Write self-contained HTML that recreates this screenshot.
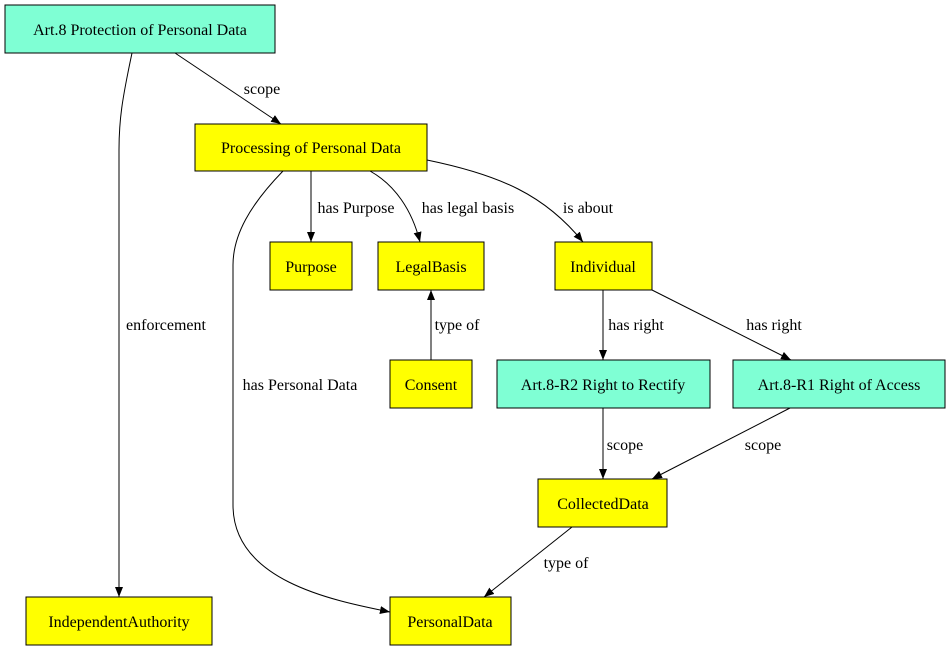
<!DOCTYPE html>
<html><head><meta charset="utf-8"><style>
html,body{margin:0;padding:0;background:#fff;width:951px;height:651px;overflow:hidden}
svg{display:block}
text{font-family:"Liberation Serif",serif;font-size:16px;fill:#000}
.n{stroke:#000;stroke-width:1}
.e{fill:none;stroke:#000;stroke-width:1}
</style></head><body>
<svg width="951" height="651" viewBox="0 0 951 651" xmlns="http://www.w3.org/2000/svg">
<defs><marker id="a" markerWidth="10" markerHeight="8" refX="10" refY="4" orient="auto" markerUnits="userSpaceOnUse"><path d="M0,0 L10,4 L0,8 z" fill="#000"/></marker></defs>
<!-- edges -->
<path class="e" marker-end="url(#a)" d="M175,53 L281,124"/>
<text x="262" y="94" text-anchor="middle">scope</text>
<path class="e" marker-end="url(#a)" d="M132,53 C122,100 119,120 119,150 L119,597"/>
<text x="166" y="330" text-anchor="middle">enforcement</text>
<path class="e" marker-end="url(#a)" d="M311,171 L311,242"/>
<text x="356" y="213" text-anchor="middle">has Purpose</text>
<path class="e" marker-end="url(#a)" d="M370,171 C395,185 412,210 420,242"/>
<text x="468" y="213" text-anchor="middle">has legal basis</text>
<path class="e" marker-end="url(#a)" d="M427,160 C500,175 545,195 583,242"/>
<text x="588" y="213" text-anchor="middle">is about</text>
<path class="e" marker-end="url(#a)" d="M283,171 C250,205 233,235 233,265 L233,505 C233,580 330,600 390,612"/>
<text x="300" y="390" text-anchor="middle">has Personal Data</text>
<path class="e" marker-end="url(#a)" d="M431,360 L431,290"/>
<text x="457" y="330" text-anchor="middle">type of</text>
<path class="e" marker-end="url(#a)" d="M603,290 L603,360"/>
<text x="636" y="330" text-anchor="middle">has right</text>
<path class="e" marker-end="url(#a)" d="M652,290 L791,360"/>
<text x="774" y="330" text-anchor="middle">has right</text>
<path class="e" marker-end="url(#a)" d="M603,408 L603,479"/>
<text x="625" y="450" text-anchor="middle">scope</text>
<path class="e" marker-end="url(#a)" d="M790,408 L652,479"/>
<text x="763" y="450" text-anchor="middle">scope</text>
<path class="e" marker-end="url(#a)" d="M572,527 L484,597"/>
<text x="566" y="568" text-anchor="middle">type of</text>
<!-- nodes -->
<rect class="n" x="5" y="5" width="270" height="48" fill="#7fffd4"/>
<text x="140" y="35" text-anchor="middle">Art.8 Protection of Personal Data</text>
<rect class="n" x="195" y="124" width="232" height="47" fill="#ffff00"/>
<text x="311" y="153" text-anchor="middle">Processing of Personal Data</text>
<rect class="n" x="270" y="242" width="82" height="48" fill="#ffff00"/>
<text x="311" y="272" text-anchor="middle">Purpose</text>
<rect class="n" x="378" y="242" width="106" height="48" fill="#ffff00"/>
<text x="431" y="272" text-anchor="middle">LegalBasis</text>
<rect class="n" x="555" y="242" width="97" height="48" fill="#ffff00"/>
<text x="603" y="272" text-anchor="middle">Individual</text>
<rect class="n" x="390" y="360" width="82" height="48" fill="#ffff00"/>
<text x="431" y="390" text-anchor="middle">Consent</text>
<rect class="n" x="497" y="360" width="213" height="48" fill="#7fffd4"/>
<text x="603" y="390" text-anchor="middle">Art.8-R2 Right to Rectify</text>
<rect class="n" x="733" y="360" width="212" height="48" fill="#7fffd4"/>
<text x="839" y="390" text-anchor="middle">Art.8-R1 Right of Access</text>
<rect class="n" x="538" y="479" width="129" height="48" fill="#ffff00"/>
<text x="603" y="509" text-anchor="middle">CollectedData</text>
<rect class="n" x="26" y="597" width="186" height="48" fill="#ffff00"/>
<text x="119" y="627" text-anchor="middle">IndependentAuthority</text>
<rect class="n" x="390" y="597" width="121" height="48" fill="#ffff00"/>
<text x="450" y="627" text-anchor="middle">PersonalData</text>
</svg>
</body></html>
